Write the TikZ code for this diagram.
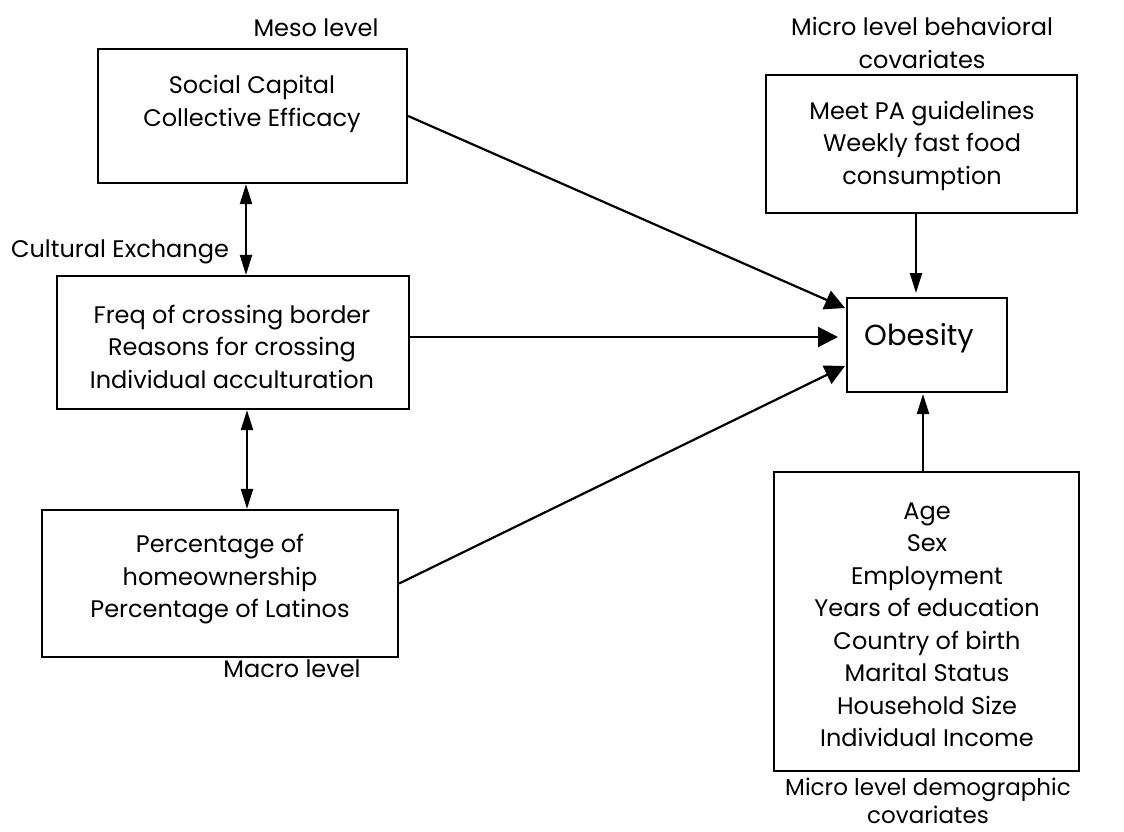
\documentclass[tikz,border=0pt]{standalone}
\usepackage{fontspec}
\setmainfont{Poppins}
\usetikzlibrary{arrows.meta}
\begin{document}
\begin{tikzpicture}[x=1pt,y=-1pt,
  box/.style={draw, line width=2.2pt, inner sep=0pt},
  txt/.style={align=center, font=\fontsize{24}{32.5}\selectfont, inner sep=0pt},
  big/.style={align=center, font=\fontsize{29}{34}\selectfont, inner sep=0pt},
  arr/.style={line width=2.2pt, -{Triangle[length=20pt,width=20pt]}},
  varr/.style={line width=2.2pt, -{Triangle[length=20pt,width=12pt]}},
  darr/.style={line width=2.2pt, {Triangle[length=20pt,width=12pt]}-{Triangle[length=20pt,width=12pt]}}]
\useasboundingbox (0,0) rectangle (1124,831);
% boxes
\node[box, minimum width=309pt, minimum height=134pt] (b1) at (252.5,116) {};
\node[box, minimum width=352pt, minimum height=133pt] (b2) at (233,342.5) {};
\node[box, minimum width=356pt, minimum height=147pt] (b3) at (220,583.5) {};
\node[box, minimum width=160pt, minimum height=94pt] (ob) at (927,345) {};
\node[box, minimum width=311pt, minimum height=138pt] (bh) at (921.5,144) {};
\node[box, minimum width=305pt, minimum height=299pt] (dm) at (926.5,621.5) {};
% box texts
\node[txt] (t1) at (252,104) {Social Capital\\Collective Efficacy};
\node[txt] (t2) at (232,346.5) {Freq of crossing border\\Reasons for crossing\\Individual acculturation};
\node[txt] (t3) at (220,579.5) {Percentage of\\homeownership\\Percentage of Latinos};
\node[big] (tob) at (919,338) {Obesity};
\node[txt] (tbh) at (922,145.5) {Meet PA guidelines\\Weekly fast food\\consumption};
\node[txt] (tdm) at (927,625) {Age\\Sex\\Employment\\Years of education\\Country of birth\\Marital Status\\Household Size\\Individual Income};
% labels
\node[txt] (lmeso) at (316,28) {Meso level};
\node[txt] (lcult) at (120,252) {Cultural Exchange};
\node[txt] (lmacro) at (292,669) {Macro level};
\node[txt] (lbh) at (922,43) {Micro level behavioral\\covariates};
\node[txt, font=\fontsize{23}{28.5}\selectfont] (ldm) at (928,801) {Micro level demographic\\covariates};
% connector end points
\coordinate (o1) at (845,308);
\coordinate (o2) at (838,337);
\coordinate (o3) at (845,366);
\coordinate (o4) at (916,293);
\coordinate (o5) at (923,394);
\coordinate (d1) at (246,0);
\coordinate (d2) at (247,0);
% connectors
\draw[arr] (b1.east) -- (o1);
\draw[arr] (b2.east |- o2) -- (o2);
\draw[arr] (b3.east) -- (o3);
\draw[varr] (bh.south -| o4) -- (o4);
\draw[varr] (dm.north -| o5) -- (o5);
\draw[darr] (b1.south -| d1) -- (b2.north -| d1);
\draw[darr] (b2.south -| d2) -- (b3.north -| d2);
\end{tikzpicture}
\end{document}
